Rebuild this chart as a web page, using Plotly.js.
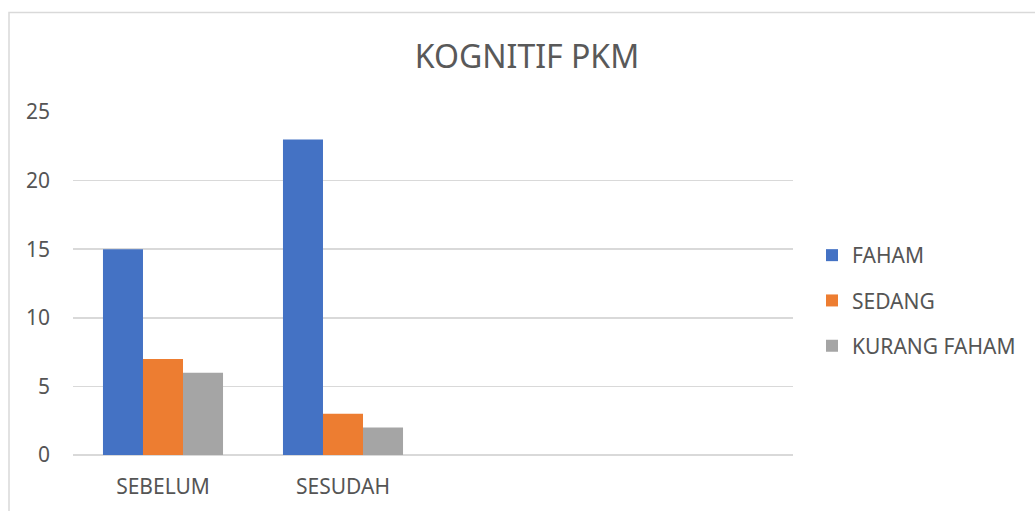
<!DOCTYPE html>
<html>
<head>
<meta charset="utf-8">
<script src="https://cdn.plot.ly/plotly-3.0.1.min.js"></script>
<style>html,body{margin:0;padding:0;background:#fff;}#chart{width:1035px;height:511px;}</style>
</head>
<body>
<div id="chart"></div>
<script>
const categories = ["SEBELUM", "SESUDAH"];
const seriesNames = ["FAHAM", "SEDANG", "KURANG FAHAM"];
const faham = [15, 23];
const sedang = [7, 3];
const kurangFaham = [6, 2];
const yTicks = [0, 5, 10, 15, 20, 25];
const colors = ["#4472C4", "#ED7D31", "#A5A5A5"];

const values = [faham, sedang, kurangFaham];
const traces = values.map((v, i) => ({
  type: "bar",
  name: seriesNames[i],
  x: categories,
  y: v,
  marker: {color: colors[i], line: {width: 0}},
  legendgroup: "g" + i,
  hoverinfo: "y+name"
}));

const font = "Noto Sans, sans-serif";
const layout = {
  width: 1035, height: 511,
  margin: {l: 73, r: 242, t: 112, b: 56},
  paper_bgcolor: "#fff", plot_bgcolor: "#fff",
  barmode: "group", bargap: 0.333, bargroupgap: 0,
  title: {text: "KOGNITIF PKM", font: {family: font, size: 32, color: "#595959"},
          xref: "container", x: 527/1035, xanchor: "center",
          yref: "container", y: 1 - 57/511, yanchor: "middle"},
  xaxis: {type: "category", range: [-0.5, 3.5], showgrid: false, zeroline: false,
          showline: false, ticks: "", ticklabelstandoff: 17,
          tickfont: {family: font, size: 21, color: "#555555"}, fixedrange: true},
  yaxis: {range: [0, 25], tickvals: yTicks, showgrid: true, gridcolor: "#D9D9D9", gridwidth: 1.5,
          zeroline: true, zerolinecolor: "#D9D9D9", zerolinewidth: 1.5, showline: false, ticks: "",
          ticklabelstandoff: 22, tickfont: {family: font, size: 21, color: "#555555"}, fixedrange: true},
  showlegend: true,
  legend: {x: (812 - 73) / 720, xanchor: "left", y: (455 - 235) / 343, yanchor: "top",
           traceorder: "grouped", tracegroupgap: 15, bgcolor: "rgba(0,0,0,0)",
           font: {family: font, size: 21, color: "#555555"}},
  shapes: [{type: "rect", xref: "paper", yref: "paper",
            x0: (9 - 73) / 720, x1: (1045 - 73) / 720,
            y0: (455 - 530) / 343, y1: (455 - 12.5) / 343,
            line: {color: "#D9D9D9", width: 1.5}, fillcolor: "rgba(0,0,0,0)", layer: "below"}]
};

Plotly.newPlot("chart", traces, layout, {displayModeBar: false, staticPlot: true});
</script>
</body>
</html>
